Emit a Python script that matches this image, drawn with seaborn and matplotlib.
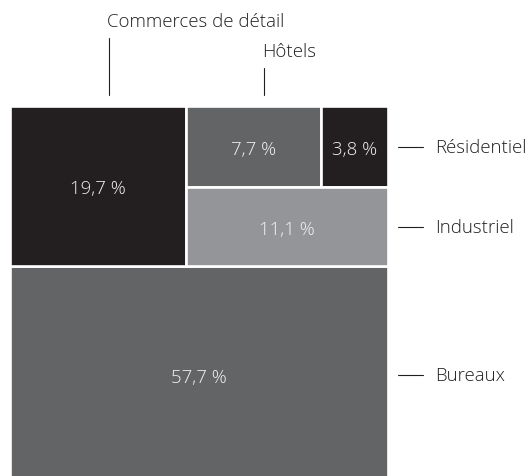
import matplotlib
matplotlib.use("Agg")
import matplotlib.pyplot as plt
from matplotlib.patches import Rectangle
import seaborn as sns

# ---- data ----
categories = ["Bureaux", "Commerces de détail", "Hôtels", "Résidentiel", "Industriel"]
shares = [57.7, 19.7, 7.7, 3.8, 11.1]
value_labels = ["57,7 %", "19,7 %", "7,7 %", "3,8 %", "11,1 %"]

sns.set_theme(style="white")
plt.rcParams["font.family"] = ["Open Sans", "DejaVu Sans"]

palette = sns.color_palette(["#636466", "#231f20", "#636466", "#231f20", "#939598"])
colors = dict(zip(categories, palette))
vals = dict(zip(categories, shares))
labs = dict(zip(categories, value_labels))

fig = plt.figure(figsize=(5.31, 4.77), dpi=100)
ax = fig.add_axes([0, 0, 1, 1])
ax.set_xlim(0, 531)
ax.set_ylim(477, 0)
ax.axis("off")

# treemap square (pixel layout)
X0, Y0, S = 9.5, 107, 378.5
total = sum(shares)

# slice-and-dice layout computed from values
top_sum = total - vals["Bureaux"]
band_h = S * top_sum / total
rects = {}
rects["Bureaux"] = (X0, Y0 + band_h, S, S - band_h)
cw = S * vals["Commerces de détail"] / top_sum
rects["Commerces de détail"] = (X0, Y0, cw, band_h)
rw = S - cw
row_sum = vals["Hôtels"] + vals["Résidentiel"]
right_sum = row_sum + vals["Industriel"]
row_h = band_h * row_sum / right_sum
rects["Industriel"] = (X0 + cw, Y0 + row_h, rw, band_h - row_h)
hw = rw * vals["Hôtels"] / row_sum
rects["Hôtels"] = (X0 + cw, Y0, hw, row_h)
rects["Résidentiel"] = (X0 + cw + hw, Y0, rw - hw, row_h)

FS = 13.4
for cat in categories:
    x, y, w, h = rects[cat]
    ax.add_patch(Rectangle((x, y), w, h, facecolor=colors[cat],
                           edgecolor="white", linewidth=1.9))
    ax.text(x + w / 2, y + h / 2 + 2, labs[cat], color="#f2f2f2",
            fontsize=FS, fontweight="light", ha="center", va="center")

ink = "#231f20"
# top annotations
for cat, text_y, line_top in [("Commerces de détail", 22, 39), ("Hôtels", 52, 69)]:
    x, y, w, h = rects[cat]
    lx = x + w / 2 + 11
    ax.plot([lx, lx], [line_top, 96], color=ink, lw=0.8)
    ax.text(lx - 2, text_y, cat, color=ink, fontsize=FS, fontweight="light",
            ha="left", va="center")

# right annotations
for cat, ly in [("Résidentiel", rects["Hôtels"][1] + rects["Hôtels"][3] / 2),
                ("Industriel", rects["Industriel"][1] + rects["Industriel"][3] / 2),
                ("Bureaux", rects["Bureaux"][1] + rects["Bureaux"][3] / 2)]:
    ax.plot([398, 423], [ly, ly], color=ink, lw=0.8)
    ax.text(435, ly, cat, color=ink, fontsize=FS, fontweight="light",
            ha="left", va="center")

fig.savefig("out.png", dpi=100, facecolor="white")
